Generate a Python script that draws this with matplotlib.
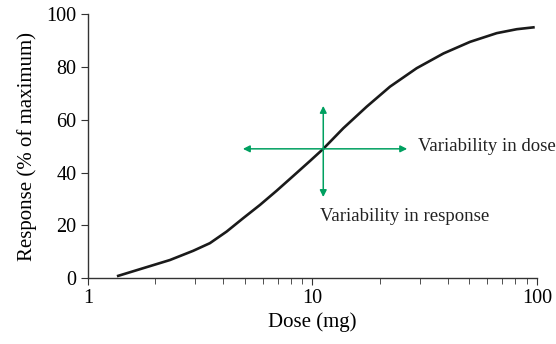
import matplotlib
matplotlib.use('Agg')
import matplotlib.pyplot as plt

# dose-response curve, read at points along the line
dose = [1.365, 1.763, 2.319, 2.944, 3.494, 4.148, 4.918, 5.836, 6.926,
        8.21, 9.75, 11.17, 13.71, 17.43, 22.14, 29.1, 38.3, 50.3, 66.1,
        81.2, 96.3]
response = [0.8, 3.7, 6.8, 10.3, 13.2, 17.6, 22.7, 27.7, 33.1,
            38.7, 44.4, 49.0, 56.8, 65.0, 72.6, 79.6, 85.2, 89.6, 92.9,
            94.4, 95.1]

# arrows showing spread around the midpoint
mid_dose, mid_resp = 11.17, 49.0
dose_span = (4.9, 26.4)
resp_span = (30.7, 65.3)

green = '#00a060'

plt.rcParams['font.family'] = ['Liberation Serif', 'DejaVu Serif']

fig = plt.figure(figsize=(5.56, 3.44), dpi=100)
ax = fig.add_axes([0.158, 0.192, 0.808, 0.766])

ax.plot(dose, response, color='#1a1a1a', lw=1.9, solid_joinstyle='round')

arrow = dict(arrowstyle='-|>', color=green, lw=1.1, mutation_scale=10,
             shrinkA=0, shrinkB=0)
for x_end in dose_span:
    ax.annotate('', xy=(x_end, mid_resp), xytext=(mid_dose, mid_resp),
                arrowprops=arrow)
for y_end in resp_span:
    ax.annotate('', xy=(mid_dose, y_end), xytext=(mid_dose, mid_resp),
                arrowprops=arrow)

ax.text(29.5, mid_resp + 1, 'Variability in dose', fontsize=13.5,
        va='center', ha='left', color='#222222')
ax.text(10.8, 23.5, 'Variability in response', fontsize=13.5,
        va='center', ha='left', color='#222222')

ax.set_xscale('log')
ax.set_xlim(1, 100)
ax.set_ylim(0, 100)
ax.set_xticks([1, 10, 100])
ax.set_xticklabels(['1', '10', '100'])
ax.set_yticks([0, 20, 40, 60, 80, 100])

for s in ['top', 'right']:
    ax.spines[s].set_visible(False)
for s in ['left', 'bottom']:
    ax.spines[s].set_color('#333333')
    ax.spines[s].set_linewidth(1.0)

ax.tick_params(axis='both', which='major', labelsize=14.5, length=5,
               color='#333333', direction='out', pad=3)
ax.tick_params(axis='x', which='minor', length=4, color='#333333')
ax.tick_params(axis='x', which='minor', labelbottom=False)

ax.set_xlabel('Dose (mg)', fontsize=15, labelpad=3)
ax.set_ylabel('Response (% of maximum)', fontsize=15, labelpad=7)

fig.savefig('out.png', dpi=100)
